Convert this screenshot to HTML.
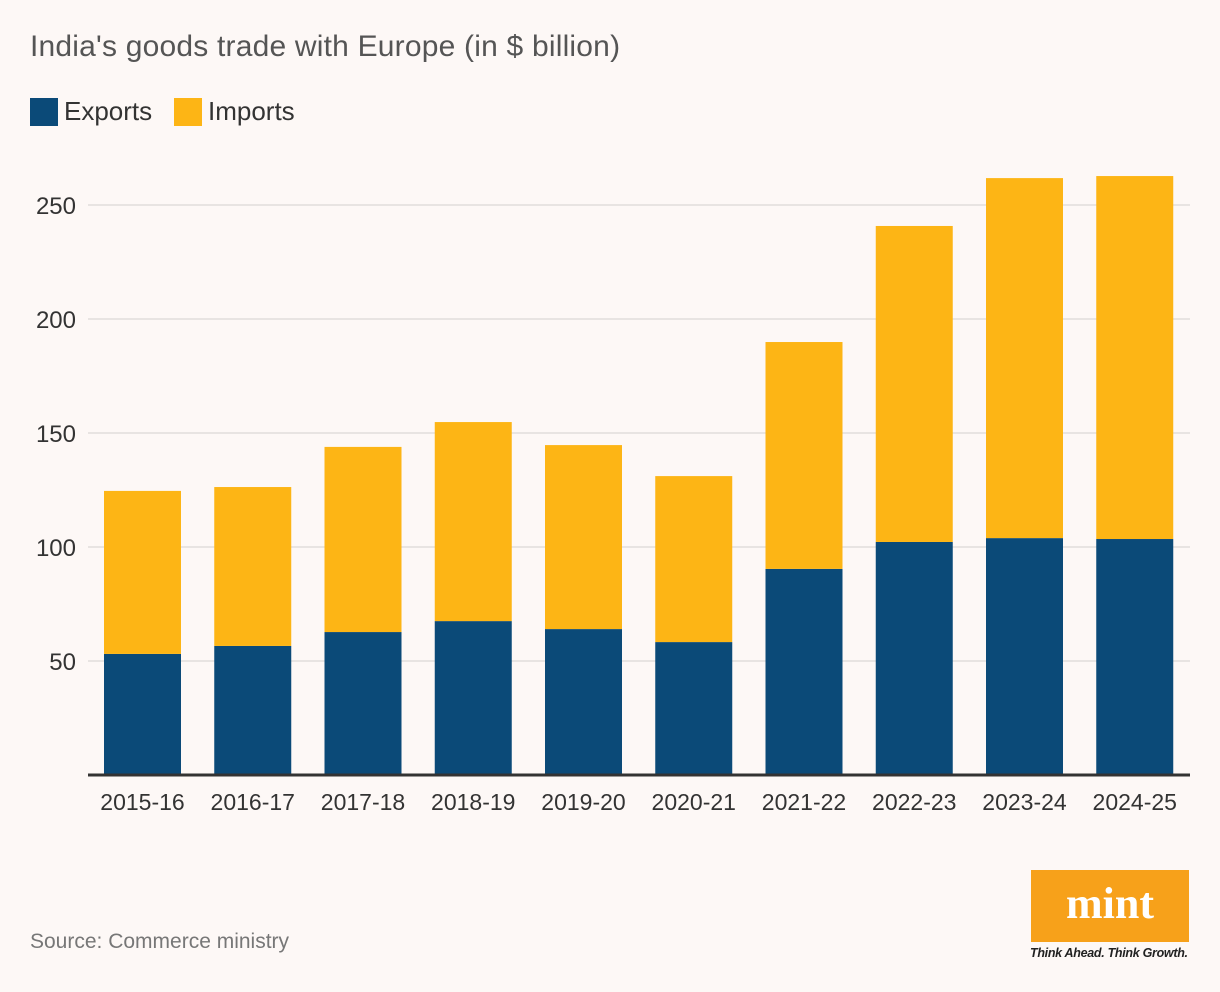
<!DOCTYPE html>
<html><head><meta charset="utf-8">
<style>
html,body{margin:0;padding:0;background:#fdf8f6;}
body{width:1220px;height:992px;position:relative;overflow:hidden;font-family:"Liberation Sans","DejaVu Sans",sans-serif;color:#333;}
#title{position:absolute;left:30px;top:30px;font-size:30px;color:#555;letter-spacing:0.2px}
.leg{position:absolute;top:96px;font-size:26px;color:#333;display:flex;align-items:center}
.sw{width:28px;height:28px;display:inline-block;margin-right:6px}
#source{position:absolute;left:30px;top:930px;font-size:21px;color:#777}
#logo{position:absolute;left:1031px;top:870px;width:158px;height:72px;background:#f7a11a;color:#fff;font-family:"Liberation Serif",serif;font-weight:bold;font-size:44px;text-align:center;line-height:68px}
#tag{position:absolute;left:1030px;top:946px;font-size:12.5px;font-style:italic;font-weight:bold;color:#222;letter-spacing:-0.3px}
svg{position:absolute;left:0;top:0}
</style></head><body>
<div id="title">India's goods trade with Europe (in $ billion)</div>
<div class="leg" style="left:30px"><span class="sw" style="background:#0b4a78"></span>Exports</div>
<div class="leg" style="left:174px"><span class="sw" style="background:#fdb515"></span>Imports</div>
<svg id="chart" width="1220" height="992"></svg>
<div id="source">Source: Commerce ministry</div>
<div id="logo">mint</div>
<div id="tag">Think Ahead. Think Growth.</div>
<script>
const categories=["2015-16","2016-17","2017-18","2018-19","2019-20","2020-21","2021-22","2022-23","2023-24","2024-25"];
const exportsVals=[53.1,56.6,62.7,67.5,64.0,58.3,90.4,102.2,103.9,103.5];
const totalVals=[124.6,126.3,143.9,154.8,144.7,131.1,189.9,240.8,261.8,262.7];
const importsVals=totalVals.map((t,i)=>+(t-exportsVals[i]).toFixed(1));
const yTicks=[50,100,150,200,250];

const svg=document.getElementById('chart');
const NS='http://www.w3.org/2000/svg';
const y0=775, pxPer=2.28, left=88, right=1190;
const y=v=>y0-v*pxPer;
const x=i=>104+i*110.25;
const bw=77;
function mk(tag,attrs){const e=document.createElementNS(NS,tag);for(const k in attrs)e.setAttribute(k,attrs[k]);svg.appendChild(e);return e;}
yTicks.forEach(t=>{
  const g=mk('line',{x1:left,x2:right,y1:y(t),y2:y(t),stroke:'#dcd7d5','stroke-width':1.2});
  
  
  const l=mk('text',{x:76,y:y(t)+9,'text-anchor':'end','font-size':24,fill:'#333','font-family':'Liberation Sans, sans-serif'});
  l.textContent=t;
  
  
});
categories.forEach((c,i)=>{
  const e=mk('rect',{x:x(i),y:y(exportsVals[i]),width:bw,height:exportsVals[i]*pxPer,fill:'#0b4a78'});
  
  
  const im=mk('rect',{x:x(i),y:y(exportsVals[i]+importsVals[i]),width:bw,height:importsVals[i]*pxPer,fill:'#fdb515'});
  
  
  const t=mk('text',{x:x(i)+bw/2,y:810,'text-anchor':'middle','font-size':23,fill:'#333','font-family':'Liberation Sans, sans-serif'});
  t.textContent=c;
  
  
});
const ax=mk('line',{x1:left,x2:right,y1:y0,y2:y0,stroke:'#333','stroke-width':3});


</script>
</body></html>
